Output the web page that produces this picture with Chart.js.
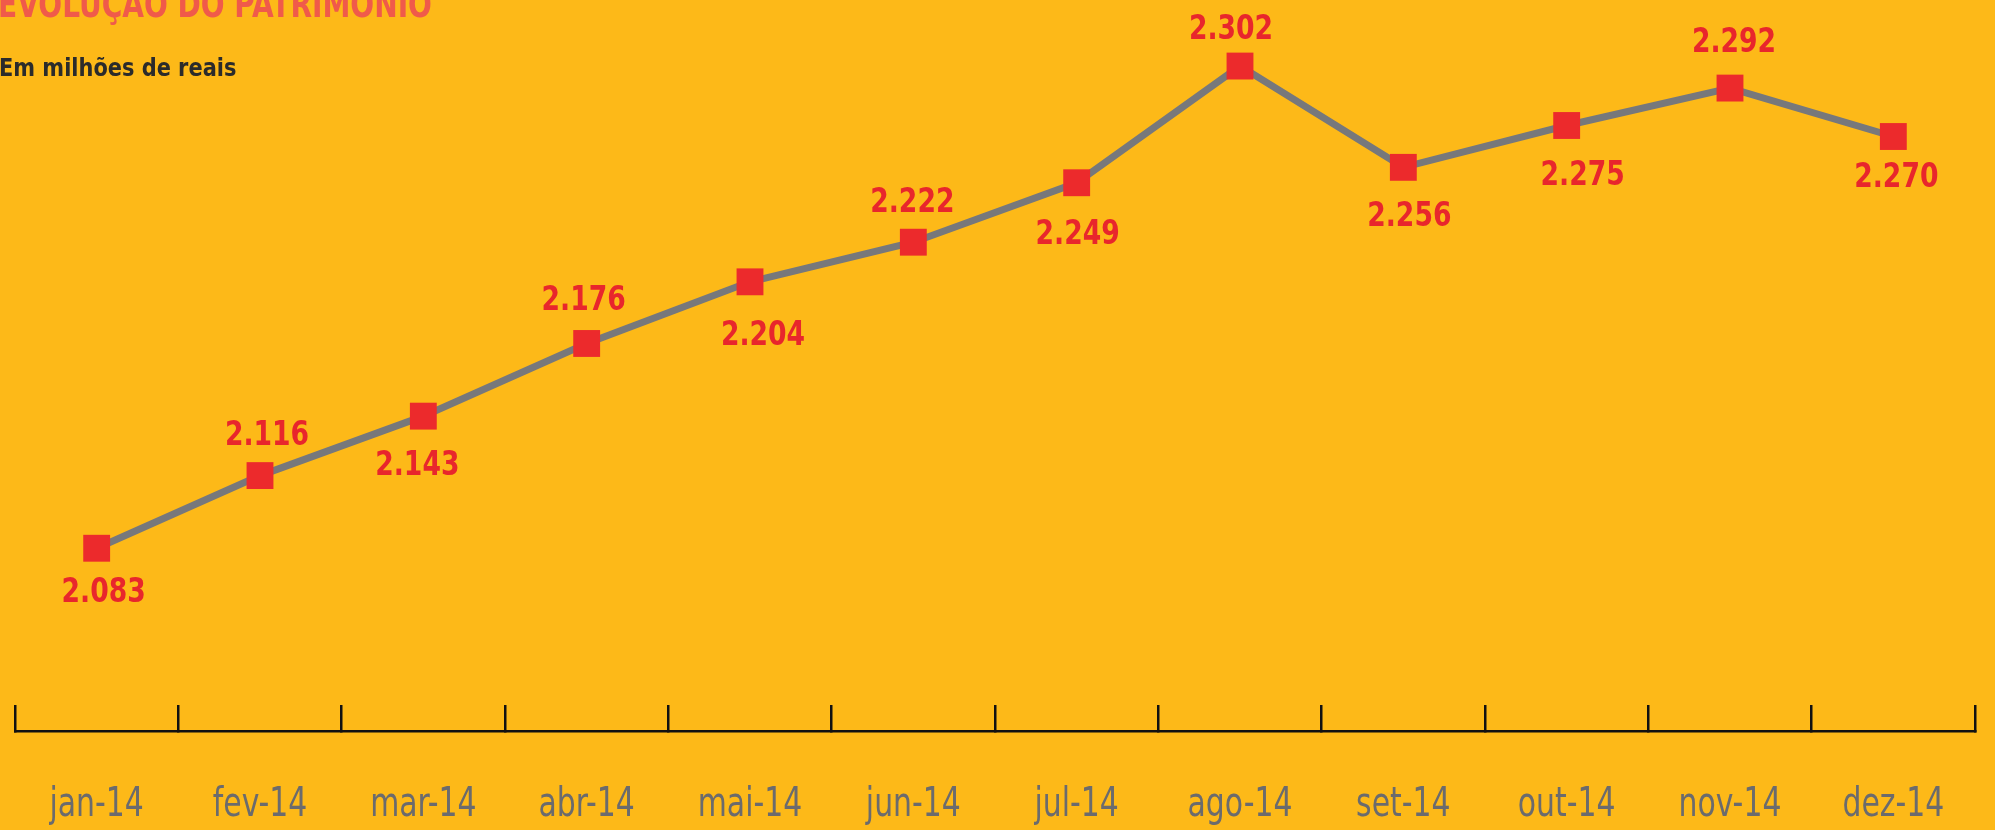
<!DOCTYPE html>
<html>
<head>
<meta charset="utf-8">
<script src="https://cdn.jsdelivr.net/npm/chart.js@4/dist/chart.umd.min.js"></script>
<style>
  html, body { margin: 0; padding: 0; background: #FDB918; overflow: hidden; }
  #wrap { position: relative; width: 1995px; height: 830px; background: #FDB918; }
  canvas { position: absolute; left: 0; top: 0; }
  #title { position: absolute; left: -2px; top: -15px; font-family: 'DejaVu Sans Condensed', 'DejaVu Sans', sans-serif; font-weight: bold; font-size: 38px; line-height: 38px; color: #F05A4A; white-space: nowrap; transform: scaleX(0.82); transform-origin: 0 0; }
  #sub { position: absolute; left: -1px; top: 55px; font-family: 'DejaVu Sans Condensed', 'DejaVu Sans', sans-serif; font-weight: bold; font-size: 25px; line-height: 25px; color: #2B2B2B; white-space: nowrap; transform: scaleX(0.93); transform-origin: 0 0; }
</style>
</head>
<body>
<div id="wrap">
  <canvas id="c" width="1995" height="830"></canvas>
  <div id="title">EVOLUÇÃO DO PATRIMÔNIO</div>
  <div id="sub">Em milhões de reais</div>
</div>
<script>
const categories = ['jan-14','fev-14','mar-14','abr-14','mai-14','jun-14','jul-14','ago-14','set-14','out-14','nov-14','dez-14'];
const patrimonio = [2.083, 2.116, 2.143, 2.176, 2.204, 2.222, 2.249, 2.302, 2.256, 2.275, 2.292, 2.270];
const valueLabels = ['2.083','2.116','2.143','2.176','2.204','2.222','2.249','2.302','2.256','2.275','2.292','2.270'];
// label placement (style only): horizontal / vertical offset of each value label from its marker
const labelDx = [7, 7, -6, -3, 13, -1, 1, -9, 6, 16, 4, 3];
const labelDy = [45, -39, 50, -42, 54, -39, 52, -36, 50, 51, -45, 42];

// Draws value labels (from valueLabels) and category labels (from categories),
// positioned by the chart's own elements and x scale, with condensed text.
const labelPlugin = {
  id: 'condensedLabels',
  afterDatasetsDraw(chart) {
    const ctx = chart.ctx;
    const meta = chart.getDatasetMeta(0);
    ctx.save();
    ctx.font = 'bold 34px "DejaVu Sans Condensed", "DejaVu Sans", sans-serif';
    ctx.fillStyle = '#E8262C';
    ctx.textAlign = 'center';
    ctx.textBaseline = 'middle';
    meta.data.forEach((pt, i) => {
      ctx.save();
      ctx.translate(pt.x + labelDx[i], pt.y + labelDy[i]);
      ctx.scale(0.87, 1);
      ctx.fillText(valueLabels[i], 0, 0);
      ctx.restore();
    });
    ctx.restore();
  },
  afterDraw(chart) {
    const ctx = chart.ctx;
    const xs = chart.scales.x;
    ctx.save();
    ctx.font = '41px "DejaVu Sans Condensed", "DejaVu Sans", sans-serif';
    ctx.fillStyle = '#6B6B6D';
    ctx.textAlign = 'center';
    ctx.textBaseline = 'middle';
    categories.forEach((c, i) => {
      ctx.save();
      ctx.translate(xs.getPixelForTick(i), xs.top + 74);
      ctx.scale(0.81, 1);
      ctx.fillText(c, 0, 0);
      ctx.restore();
    });
    ctx.restore();
  }
};

new Chart(document.getElementById('c'), {
  type: 'line',
  data: {
    labels: categories,
    datasets: [{
      data: patrimonio,
      borderColor: '#77787B',
      borderWidth: 7,
      pointStyle: 'rect',
      pointRadius: 19,
      pointHoverRadius: 19,
      pointBackgroundColor: '#EC2A2C',
      pointBorderColor: '#EC2A2C',
      pointBorderWidth: 0,
      tension: 0,
      fill: false,
      clip: false
    }]
  },
  options: {
    responsive: false,
    animation: false,
    events: [],
    layout: { autoPadding: false, padding: { left: 15, right: 20, top: 0, bottom: 3 } },
    plugins: { legend: { display: false }, tooltip: { enabled: false }, title: { display: false } },
    scales: {
      x: {
        type: 'category',
        offset: true,
        border: { display: true, color: '#111', width: 2.5 },
        grid: { offset: true, drawOnChartArea: false, drawTicks: true, tickLength: -26, color: '#111', lineWidth: 2.5 },
        ticks: { display: false, autoSkip: false, maxRotation: 0 },
        afterFit(scale) {
          scale.height = 96;
          scale.paddingLeft = 0;
          scale.paddingRight = 0;
        }
      },
      y: {
        display: false,
        min: 2.0,
        max: 2.332
      }
    }
  },
  plugins: [labelPlugin]
});
</script>
</body>
</html>
